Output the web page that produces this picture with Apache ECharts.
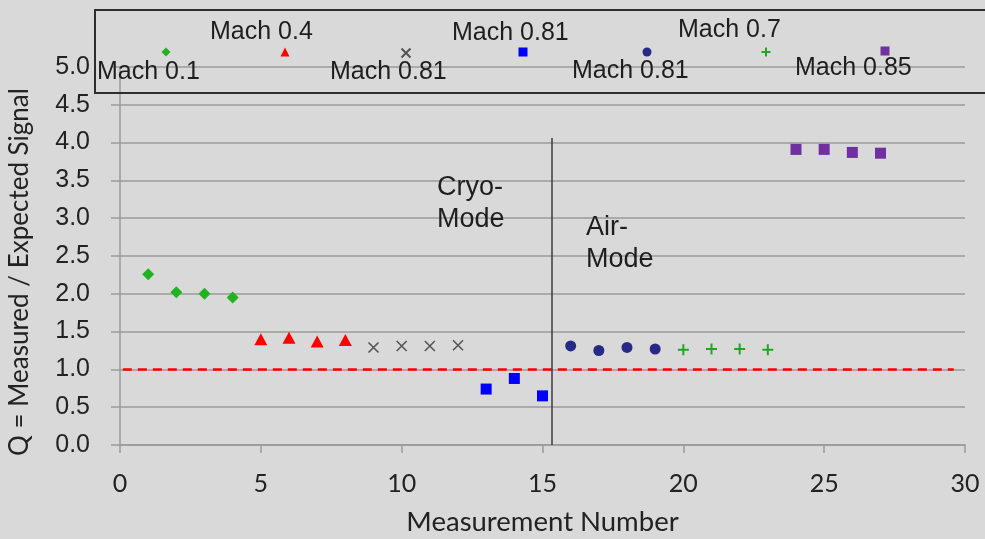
<!DOCTYPE html>
<html>
<head>
<meta charset="utf-8">
<script src="https://cdn.jsdelivr.net/npm/echarts@6/dist/echarts.min.js"></script>
<style>
  html, body { margin: 0; padding: 0; background: #d9d9d9; }
  #chart { width: 985px; height: 539px; }
</style>
</head>
<body>
<div id="chart"></div>
<script>
// Measurement numbers and Q values, one pair of arrays per Mach run
const mach01N = [1, 2, 3, 4];
const mach01Q = [2.26, 2.02, 2.00, 1.95];
const mach04N = [5, 6, 7, 8];
const mach04Q = [1.40, 1.42, 1.37, 1.39];
const mach081aN = [9, 10, 11, 12];
const mach081aQ = [1.29, 1.31, 1.31, 1.32];
const mach081bN = [13, 14, 15];
const mach081bQ = [0.74, 0.88, 0.65];
const mach081cN = [16, 17, 18, 19];
const mach081cQ = [1.31, 1.25, 1.29, 1.27];
const mach07N = [20, 21, 22, 23];
const mach07Q = [1.26, 1.27, 1.27, 1.26];
const mach085N = [24, 25, 26, 27];
const mach085Q = [3.91, 3.91, 3.87, 3.86];

// Legend labels (three runs share Mach 0.81)
const legendLabels = ['Mach 0.1', 'Mach 0.4', 'Mach 0.81', 'Mach 0.81', 'Mach 0.81', 'Mach 0.7', 'Mach 0.85'];
const seriesIds = ['m01', 'm04', 'm081a', 'm081b', 'm081c', 'm07', 'm085'];

// Axis ticks
const yTicks = [0, 0.5, 1.0, 1.5, 2.0, 2.5, 3.0, 3.5, 4.0, 4.5, 5.0];
const xTicks = [0, 5, 10, 15, 20, 25, 30];

// Reference level Q = 1 and the cryo/air split
const unityQ = 1.0;
const unitySpan = [0.1, 29.6];
const modeSplitN = 15.34;
const modeSplitTop = 4.06;

const zip = (xs, ys) => xs.map((x, i) => [x, ys[i]]);

const FONT_ARIAL = '"Liberation Sans", Arial, sans-serif';
const FONT_HUMANIST = 'Lato, "Open Sans", sans-serif';

const styles = [
  { symbol: 'diamond', symbolSize: [12, 12], itemStyle: { color: '#1fb31f', opacity: 1 } },
  { symbol: 'triangle', symbolSize: [13, 12], itemStyle: { color: '#ff0000', opacity: 1 } },
  { symbol: 'path://M0,0L10,10M10,0L0,10', symbolSize: 10,
    itemStyle: { color: '#555555', borderColor: '#555555', borderWidth: 1.6, opacity: 1 } },
  { symbol: 'rect', symbolSize: 11, itemStyle: { color: '#0000ff', opacity: 1 } },
  { symbol: 'circle', symbolSize: 11, itemStyle: { color: '#262a86', opacity: 1 } },
  { symbol: 'path://M5,0L5,10M0,5L10,5', symbolSize: 11,
    itemStyle: { color: '#1fa81f', borderColor: '#1fa81f', borderWidth: 2, opacity: 1 } },
  { symbol: 'rect', symbolSize: 11, itemStyle: { color: '#7030a0', opacity: 1 } }
];

const dataSets = [
  zip(mach01N, mach01Q), zip(mach04N, mach04Q), zip(mach081aN, mach081aQ),
  zip(mach081bN, mach081bQ), zip(mach081cN, mach081cQ), zip(mach07N, mach07Q),
  zip(mach085N, mach085Q)
];

// Legend layout: icon centres and label anchors
const legendIcon = [[166, 52], [285, 52], [405, 52], [523, 52], [647, 52], [765, 51], [885, 51]];
const legendText = [[97, 72], [210, 32], [330, 72], [452, 33], [572, 71], [678, 30], [795, 68]];

const series = dataSets.map((d, i) => Object.assign({
  type: 'scatter',
  name: seriesIds[i],
  data: d,
  z: 3
}, styles[i]));

series[0].markLine = {
  silent: true,
  symbol: 'none',
  label: { show: false },
  data: [
    [{ coord: [unitySpan[0], unityQ], lineStyle: { color: '#ff0000', width: 2.5, type: [9, 6] } },
     { coord: [unitySpan[1], unityQ] }],
    [{ coord: [modeSplitN, 0], lineStyle: { color: '#3a3a3a', width: 1.5, type: 'solid' } },
     { coord: [modeSplitN, modeSplitTop] }]
  ]
};

const legends = seriesIds.map((id, i) => ({
  data: [id],
  left: legendIcon[i][0] - 4.5,
  top: legendIcon[i][1] - 4.5,
  padding: 0,
  itemWidth: 9,
  itemHeight: 9,
  itemGap: 0,
  selectedMode: false,
  formatter: () => '',
  textStyle: { fontSize: 1 }
}));

const graphics = [
  { type: 'rect', shape: { x: 95, y: 10, width: 905, height: 83 },
    style: { fill: 'none', stroke: '#2e2e2e', lineWidth: 2 }, z: 10 },
  ...legendLabels.map((t, i) => ({
    type: 'text', x: legendText[i][0], y: legendText[i][1], z: 11,
    style: { text: t, font: '25px ' + FONT_ARIAL, fill: '#1e1e1e', verticalAlign: 'middle' }
  })),
  { type: 'text', x: 437, y: 172, z: 11,
    style: { text: 'Cryo-\nMode', font: '27px ' + FONT_ARIAL, lineHeight: 32, fill: '#1e1e1e' } },
  { type: 'text', x: 586, y: 212, z: 11,
    style: { text: 'Air-\nMode', font: '27px ' + FONT_ARIAL, lineHeight: 32, fill: '#1e1e1e' } },
  // Value-axis title, centred a little below the plot middle
  { type: 'text', x: 20, y: 272, rotation: Math.PI / 2, z: 11,
    style: { text: 'Q = Measured / Expected Signal', font: '26px ' + FONT_HUMANIST,
      fill: '#222', align: 'center', verticalAlign: 'middle' } }
];

const chart = echarts.init(document.getElementById('chart'), null, { renderer: 'canvas' });
chart.setOption({
  backgroundColor: '#d9d9d9',
  animation: false,
  grid: { left: 120, right: 20, top: 67, bottom: 94, containLabel: false, outerBoundsMode: 'none' },
  xAxis: {
    type: 'value',
    min: xTicks[0], max: xTicks[xTicks.length - 1], interval: 5,
    name: 'Measurement Number',
    nameLocation: 'middle',
    nameGap: 63,
    nameTextStyle: { fontFamily: FONT_HUMANIST, fontSize: 27.5, color: '#222' },
    axisLine: { show: true, lineStyle: { color: '#9a9a9a', width: 1.5 } },
    axisTick: { show: true, inside: false, length: 8, lineStyle: { color: '#9a9a9a', width: 1.5 } },
    axisLabel: { margin: 26, fontFamily: FONT_HUMANIST, fontSize: 25, color: '#222' },
    splitLine: { show: false }
  },
  yAxis: {
    type: 'value',
    min: yTicks[0], max: yTicks[yTicks.length - 1], interval: 0.5,
    axisLine: { show: true, lineStyle: { color: '#9a9a9a', width: 1.5 } },
    axisTick: { show: true, inside: false, length: 9, lineStyle: { color: '#9a9a9a', width: 1.5 } },
    axisLabel: { margin: 30, fontFamily: FONT_ARIAL, fontSize: 25, color: '#222',
      formatter: v => v.toFixed(1) },
    splitLine: { show: true, lineStyle: { color: '#9a9a9a', width: 1.5 } }
  },
  legend: legends,
  series: series,
  graphic: graphics
});
</script>
</body>
</html>
